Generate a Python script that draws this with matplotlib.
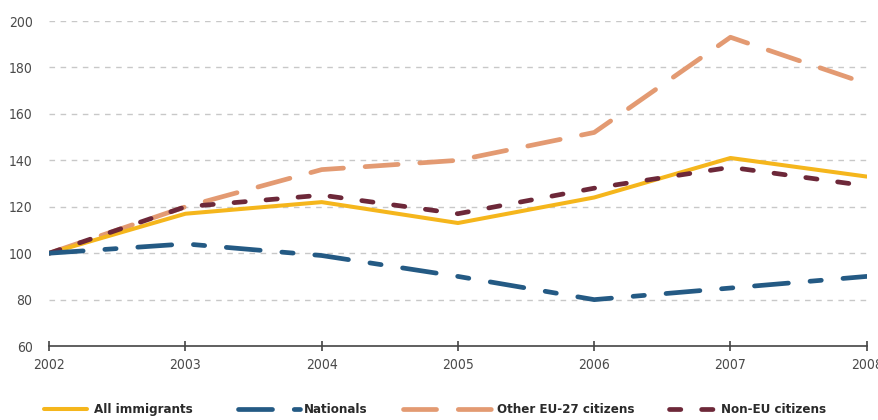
import os

import matplotlib

matplotlib.use("Agg")
import matplotlib.pyplot as plt  # noqa: E402
from matplotlib import font_manager  # noqa: E402

years = [2002, 2003, 2004, 2005, 2006, 2007, 2008]
all_immigrants = [100, 117, 122, 113, 124, 141, 133]
nationals = [100, 104, 99, 90, 80, 85, 90]
other_eu27 = [100, 120, 136, 140, 152, 193, 173]
non_eu = [100, 120, 125, 117, 128, 137, 129]

y_ticks = [60, 80, 100, 120, 140, 160, 180, 200]

W, H = 879, 420


def narrow_font(bold):
    # the source uses a condensed face; pick whatever narrow font is installed
    prefs = ["LiberationSansNarrow", "DejaVuSansCondensed"]
    files = [f.fname for f in font_manager.fontManager.ttflist]
    for p in prefs:
        for fn in files:
            base = os.path.basename(fn)
            if not base.startswith(p):
                continue
            is_bold = "Bold" in base
            if is_bold == bold and "Italic" not in base and "Oblique" not in base:
                return font_manager.FontProperties(fname=fn)
    return font_manager.FontProperties(family="DejaVu Sans",
                                       weight="bold" if bold else "normal",
                                       stretch="condensed")


tick_font = narrow_font(False)
tick_font.set_size(10)
legend_font = narrow_font(True)
legend_font.set_size(9.5)

fig = plt.figure(figsize=(W / 100, H / 100), dpi=100)
ax = fig.add_axes([0.056, 0.176, 0.93, 0.774])

for v in y_ticks[1:]:
    ax.axhline(v, color="#c8c8c8", lw=1.0, dashes=(4, 4), zorder=1)

series = [
    ("Other EU-27 citizens", other_eu27, "#e39a72", (7.0, 4.6)),
    ("All immigrants", all_immigrants, "#f5b61c", None),
    ("Non-EU citizens", non_eu, "#6d2839", (2.4, 4.4)),
    ("Nationals", nationals, "#245a84", (7.2, 4.6, 2.4, 4.6)),
]
lines = {}
for label, vals, color, dash in series:
    kw = dict(color=color, lw=3.4, solid_capstyle="round", zorder=3)
    if dash is not None:
        kw["dashes"] = dash
        kw["dash_capstyle"] = "round"
    else:
        kw["lw"] = 2.9
    (ln,) = ax.plot(years, vals, label=label, **kw)
    lines[label] = ln

ax.set_xlim(2002, 2008)
ax.set_ylim(60, 200)
ax.set_xticks(years)
ax.set_yticks(y_ticks)
for lab in ax.get_xticklabels() + ax.get_yticklabels():
    lab.set_fontproperties(tick_font)

for side in ("top", "right", "left"):
    ax.spines[side].set_visible(False)
ax.spines["bottom"].set_color("#444444")
ax.spines["bottom"].set_linewidth(1.2)
ax.tick_params(axis="y", length=0, pad=12, labelcolor="#4a4a4a")
ax.tick_params(axis="x", direction="inout", length=7, width=1.2, color="#444444",
               pad=5, labelcolor="#4a4a4a")

# the source legend has a different swatch length per entry, so one legend each
# (left edge px, swatch length px, gap to text px)
legend_slots = {
    "All immigrants": (44, 43, 7),
    "Nationals": (238, 62, 4),
    "Other EU-27 citizens": (403, 93, 1),
    "Non-EU citizens": (669, 51, 1),
}
fs = legend_font.get_size_in_points()
for label, (x0, hlen, gap) in legend_slots.items():
    fig.legend([lines[label]], [label], loc="center left",
               bbox_to_anchor=(x0 / W, 0.024), frameon=False,
               handlelength=hlen * 0.72 / fs, handletextpad=gap * 0.72 / fs,
               prop=legend_font, labelcolor="#2a2a2a",
               borderaxespad=0, borderpad=0)

fig.savefig("out.png", dpi=100)
